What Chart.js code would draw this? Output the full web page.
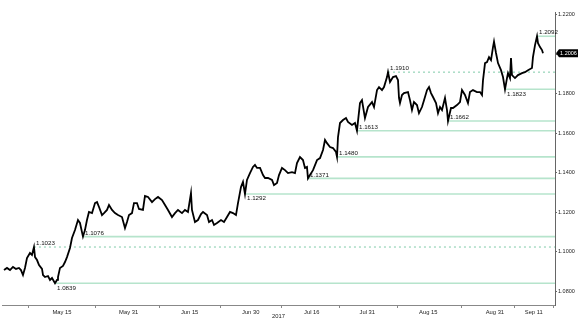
<!DOCTYPE html>
<html><head><meta charset="utf-8">
<script src="https://cdn.jsdelivr.net/npm/chart.js@4/dist/chart.umd.min.js"></script>
<style>html,body{margin:0;padding:0;background:#fff}#wrap{width:579px;height:320px}</style>
</head><body><div id="wrap"><canvas id="c" width="579" height="320"></canvas></div>
<script>
// trading-day offsets from 15 May 2017
const tradingDay = [-10.45,-9.91,-9.37,-8.83,-8.29,-7.75,-7.39,-7.03,-6.67,-6.31,-5.77,-5.41,-5.05,-4.86,-4.50,-4.14,-3.60,-3.42,-3.06,-2.52,-2.16,-1.80,-1.26,-0.90,-0.72,-0.36,
0.18,0.54,0.90,1.44,1.80,2.34,2.88,3.24,3.78,4.14,4.50,4.86,5.41,5.95,6.31,6.67,7.21,7.57,8.11,8.47,9.01,9.55,10.09,10.81,11.35,11.71,12.07,12.61,12.97,13.51,13.87,14.59,14.95,15.50,16.22,16.76,17.30,18.02,18.56,19.10,19.82,20.36,20.90,21.62,22.16,22.70,23.24,23.42,23.96,24.50,25.05,25.41,26.13,26.49,27.03,27.39,27.93,28.65,29.19,29.73,30.27,30.81,31.35,31.71,32.25,32.61,32.97,33.33,33.87,34.41,34.77,35.14,35.68,36.22,36.58,37.12,37.84,38.20,38.74,39.10,39.64,40.18,40.72,41.44,41.98,42.34,42.88,43.42,43.78,44.14,44.32,44.68,45.23,45.95,46.49,47.03,47.39,47.75,48.29,48.83,49.37,49.55,49.73,50.09,50.63,51.17,51.53,52.25,52.79,53.15,53.69,54.05,54.59,55.14,55.86,56.22,56.76,57.12,57.66,58.02,58.56,58.74,59.10,59.64,60.18,60.54,60.72,60.90,61.26,61.62,62.34,62.70,63.06,63.42,63.96,64.32,64.86,65.23,65.77,66.13,66.49,66.85,67.39,67.75,68.11,68.47,69.01,69.37,69.55,70.09,70.45,71.17,71.71,72.07,72.61,73.15,73.51,74.05,74.77,75.32,75.68,75.86,76.22,76.58,76.94,77.30,77.66,77.84,78.20,78.56,79.10,79.46,79.82,80.18,80.36,80.72,80.90,81.08,81.62,82.16,82.88,83.42,83.96,84.68,84.86,85.23,85.59,85.77,86.13,86.49,86.67];
const eurusd = [1.0906,1.0917,1.0906,1.0922,1.0912,1.0917,1.0906,1.0881,1.0917,1.0967,1.0993,1.0983,1.1023,1.0972,1.0957,1.0932,1.0912,1.0881,1.0871,1.0876,1.0856,1.0866,1.0839,1.0856,1.0871,1.0917,
1.0927,1.0947,1.0972,1.1018,1.1069,1.1109,1.1160,1.1145,1.1076,1.1109,1.1160,1.1201,1.1195,1.1246,1.1251,1.1226,1.1185,1.1195,1.1211,1.1236,1.1211,1.1195,1.1185,1.1175,1.1119,1.1150,1.1185,1.1195,1.1246,1.1246,1.1216,1.1211,1.1282,1.1277,1.1251,1.1266,1.1277,1.1261,1.1236,1.1211,1.1175,1.1195,1.1211,1.1195,1.1211,1.1201,1.1297,1.1211,1.1150,1.1160,1.1190,1.1201,1.1185,1.1150,1.1160,1.1135,1.1145,1.1160,1.1150,1.1175,1.1201,1.1195,1.1185,1.1246,1.1327,1.1353,1.1292,1.1363,1.1398,1.1429,1.1439,1.1424,1.1424,1.1388,1.1373,1.1373,1.1363,1.1337,1.1348,1.1388,1.1424,1.1413,1.1398,1.1403,1.1398,1.1449,1.1479,1.1464,1.1424,1.1429,1.1371,1.1388,1.1413,1.1464,1.1474,1.1515,1.1566,1.1550,1.1530,1.1525,1.1505,1.1480,1.1581,1.1652,1.1667,1.1677,1.1657,1.1642,1.1652,1.1613,1.1753,1.1768,1.1677,1.1733,1.1758,1.1733,1.1819,1.1834,1.1819,1.1834,1.1885,1.1910,1.1860,1.1885,1.1890,1.1870,1.1779,1.1753,1.1794,1.1804,1.1809,1.1768,1.1718,1.1758,1.1743,1.1702,1.1733,1.1768,1.1819,1.1834,1.1804,1.1784,1.1753,1.1702,1.1733,1.1718,1.1779,1.1718,1.1662,1.1728,1.1728,1.1743,1.1758,1.1819,1.1794,1.1753,1.1809,1.1819,1.1809,1.1809,1.1794,1.1870,1.1956,1.1961,1.1986,1.1971,1.2037,1.2065,1.2007,1.1956,1.1920,1.1885,1.1823,1.1880,1.1905,1.1880,1.1981,1.1895,1.1880,1.1895,1.1905,1.1910,1.1920,1.1931,1.1986,1.2047,1.2092,1.2057,1.2037,1.2022,1.2006];

const tickDays = [0,12,23,34,45,55,66,78,85];
const tickLabels = ['May 15','May 31','Jun 15','Jun 30','Jul 16','Jul 31','Aug 15','Aug 31','Sep 11'];
const yearLabel = '2017';
const yTicks = [1.08,1.10,1.12,1.14,1.16,1.18,1.20,1.22];
const levelValues = [1.1023,1.0839,1.1076,1.1292,1.1371,1.1480,1.1613,1.1662,1.1823,1.1910,1.2092];
const levelStartDay = [-5.05,-1.26,3.78,32.97,44.32,49.55,53.15,69.55,79.82,58.74,85.59];
const lastValue = 1.2006;

const X_MIN = -10.81, X_MAX = 88.83, Y_MIN = 1.0729, Y_MAX = 1.2215;
const dashedSet = new Set([1.1023, 1.1910]);
const belowSet = new Set([1.0839, 1.1292, 1.1823]);
const FONT = '"Liberation Sans", Arial, sans-serif';

const datasets = [{
  data: tradingDay.map((d, i) => ({x: d, y: eurusd[i]})),
  borderColor: '#000', borderWidth: 1.8, pointRadius: 0, tension: 0, order: 0,
  borderJoinStyle: 'miter'
}];
levelValues.forEach((v, i) => {
  const dashed = dashedSet.has(v);
  datasets.push({
    data: [{x: levelStartDay[i], y: v}, {x: X_MAX, y: v}],
    borderColor: dashed ? '#7fcaa8' : '#b6e4cc',
    borderWidth: dashed ? 1 : 1.6,
    borderDash: dashed ? [2, 3] : [],
    pointRadius: 0, order: 1
  });
});

const labelPlugin = {
  id: 'levelLabels',
  afterDatasetsDraw(chart) {
    const {ctx, scales: {x, y}} = chart;
    ctx.save();
    ctx.font = '6.2px ' + FONT;
    ctx.fillStyle = '#111';
    ctx.textAlign = 'left';
    levelValues.forEach((v, i) => {
      const px = x.getPixelForValue(levelStartDay[i]) + 2;
      const py = y.getPixelForValue(v);
      if (belowSet.has(v)) { ctx.textBaseline = 'top'; ctx.fillText(v.toFixed(4), px, py + 1.5); }
      else { ctx.textBaseline = 'bottom'; ctx.fillText(v.toFixed(4), px, py - 0.5); }
    });
    // last value tag
    const ly = y.getPixelForValue(lastValue);
    const lx = y.left + 1;
    ctx.fillStyle = '#000';
    ctx.beginPath();
    ctx.moveTo(lx, ly);
    ctx.lineTo(lx + 3, ly - 4);
    ctx.lineTo(chart.width - 1, ly - 4);
    ctx.lineTo(chart.width - 1, ly + 4);
    ctx.lineTo(lx + 3, ly + 4);
    ctx.closePath();
    ctx.fill();
    ctx.fillStyle = '#fff';
    ctx.font = '5.5px ' + FONT;
    ctx.textAlign = 'center';
    ctx.textBaseline = 'middle';
    ctx.fillText(lastValue.toFixed(4), (lx + 3 + chart.width - 1) / 2, ly + 0.5);
    ctx.restore();
  }
};

new Chart(document.getElementById('c'), {
  type: 'line',
  data: {datasets},
  plugins: [labelPlugin],
  options: {
    responsive: false, animation: false, parsing: true,
    layout: {padding: {left: 2, top: 12, right: 0, bottom: 0}},
    plugins: {legend: {display: false}, tooltip: {enabled: false}},
    scales: {
      x: {
        type: 'linear', position: 'bottom', min: X_MIN, max: X_MAX,
        afterBuildTicks: s => { s.ticks = tickDays.map(v => ({value: v})); },
        afterFit: s => { s.height = 15; },
        ticks: {
          autoSkip: false, maxRotation: 0, padding: 1, color: '#222',
          font: {family: FONT, size: 5.8},
          callback: v => tickLabels[tickDays.indexOf(v)]
        },
        grid: {drawOnChartArea: false, drawTicks: true, tickLength: 3, offset: true, color: '#888'},
        border: {display: true, color: '#888', width: 1},
        title: {display: true, text: yearLabel, color: '#222', font: {family: FONT, size: 5.8}, padding: 0}
      },
      y: {
        type: 'linear', position: 'right', min: Y_MIN, max: Y_MAX,
        afterBuildTicks: s => { s.ticks = yTicks.map(v => ({value: v})); },
        afterFit: s => { s.width = 24; },
        ticks: {
          padding: 1, color: '#222', font: {family: FONT, size: 5.5},
          callback: v => Number(v).toFixed(4)
        },
        grid: {drawOnChartArea: false, drawTicks: true, tickLength: 2, color: '#666'},
        border: {display: true, color: '#666', width: 1}
      }
    }
  }
});
</script>
</body></html>
